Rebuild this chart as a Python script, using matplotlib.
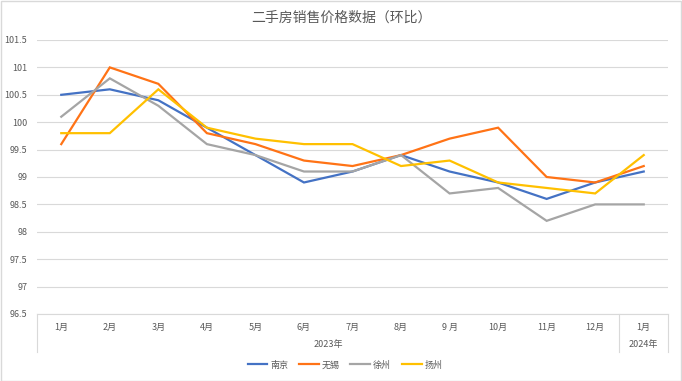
import numpy as np
import matplotlib
matplotlib.use('Agg')
import matplotlib.pyplot as plt
from matplotlib.lines import Line2D
from matplotlib.patches import Rectangle

plt.rcParams['font.family'] = ['Noto Sans CJK SC', 'DejaVu Sans']

# データ
months = ['1月', '2月', '3月', '4月', '5月', '6月', '7月', '8月', '9 月', '10月', '11月', '12月', '1月']
years = ['2023年', '2024年']
year_spans = [12, 1]
cities = ['南京', '无锡', '徐州', '扬州']
nanjing = [100.5, 100.6, 100.4, 99.9, 99.4, 98.9, 99.1, 99.4, 99.1, 98.9, 98.6, 98.9, 99.1]
wuxi = [99.6, 101.0, 100.7, 99.8, 99.6, 99.3, 99.2, 99.4, 99.7, 99.9, 99.0, 98.9, 99.2]
xuzhou = [100.1, 100.8, 100.3, 99.6, 99.4, 99.1, 99.1, 99.4, 98.7, 98.8, 98.2, 98.5, 98.5]
yangzhou = [99.8, 99.8, 100.6, 99.9, 99.7, 99.6, 99.6, 99.2, 99.3, 98.9, 98.8, 98.7, 99.4]
series = [nanjing, wuxi, xuzhou, yangzhou]
colors = ['#4472C4', '#FF7316', '#A5A5A5', '#FFC000']

W, H = 682, 381
fig = plt.figure(figsize=(W / 100, H / 100), dpi=100)
fig.patch.set_facecolor('white')
fig.patches.append(Rectangle((0.5 / W, 0.5 / H), 1 - 1.5 / W, 1 - 1.5 / H, transform=fig.transFigure,
                             fill=False, edgecolor='#d9d9d9', lw=1))

x0, x1, y0, y1 = 37, 668, 40, 314
ax = fig.add_axes([x0 / W, 1 - y1 / H, (x1 - x0) / W, (y1 - y0) / H])
x = np.arange(len(months))
for vals, c, name in zip(series, colors, cities):
    ax.plot(x, vals, color=c, lw=1.6, label=name, solid_joinstyle='miter')

ax.set_xlim(-0.5, len(months) - 0.5)
ax.set_ylim(96.5, 101.5)
ax.set_yticks(np.arange(96.5, 101.51, 0.5))
ax.set_yticklabels([f'{v:g}' for v in np.arange(96.5, 101.51, 0.5)])
ax.grid(axis='y', color='#d9d9d9', lw=0.8)
ax.set_axisbelow(True)
for s in ['top', 'right', 'left']:
    ax.spines[s].set_visible(False)
ax.spines['bottom'].set_color('#d9d9d9')
ax.tick_params(axis='y', length=0, labelsize=6.5, labelcolor='#595959', pad=7)
ax.set_xticks([])

# 月・年ラベル
trans = ax.get_xaxis_transform()
ph = y1 - y0
for i, m in enumerate(months):
    ax.text(i, -13 / ph, m, transform=trans, ha='center', va='center', fontsize=6.5, color='#595959')
start = 0
seps = [-0.5]
for yr, span in zip(years, year_spans):
    ax.text(start + span / 2 - 0.5, -31 / ph, yr, transform=trans, ha='center', va='center',
            fontsize=6.5, color='#595959')
    start += span
    seps.append(start - 0.5)
for s in seps:
    ax.add_line(Line2D([s, s], [0, -38 / ph], transform=trans, color='#d9d9d9', lw=0.8, clip_on=False))

fig.text(0.5, 1 - 18 / H, '二手房销售价格数据（环比）', ha='center', va='center', fontsize=10, color='#595959')
fig.legend(loc='center', bbox_to_anchor=(345 / W, 1 - 365 / H), ncol=4, frameon=False, fontsize=6.5,
           handlelength=2.2, handletextpad=0.3, columnspacing=1.2, labelcolor='#595959')

fig.savefig('out.png', dpi=100)
